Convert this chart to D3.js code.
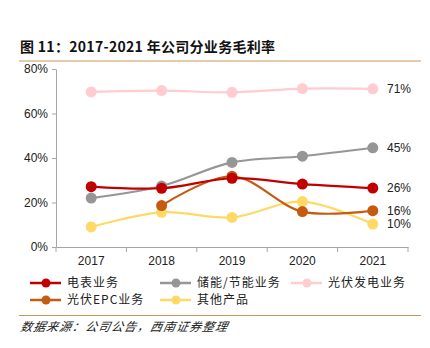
<!DOCTYPE html>
<meta charset="utf-8">
<style>
body { margin: 0; background: #fff; }
text { font-family: "Liberation Sans", Arial, sans-serif; }
.cjk { font-family: "Noto Sans CJK SC", sans-serif; }
.axis path, .axis line { stroke: #a6a6a6; }
.axis text { font-size: 12px; fill: #222; font-family: "Liberation Sans", Arial, sans-serif; }
</style>
<svg width="430" height="348"></svg>
<script src="https://cdn.jsdelivr.net/npm/d3@7"></script>
<script>

var years = ["2017", "2018", "2019", "2020", "2021"];
var yTicks = [0, 20, 40, 60, 80];

var meter   = [27.1, 26.4, 30.9, 28.3, 26.5];   // 电表业务
var storage = [22.0, 27.4, 38.0, 40.8, 44.6];   // 储能/节能业务
var pvPower = [69.7, 70.3, 69.5, 71.2, 71.1];   // 光伏发电业务
var pvEpc   = [null, 18.6, 31.8, 15.9, 16.3];   // 光伏EPC业务
var others  = [9.0, 15.6, 13.3, 20.4, 10.3];    // 其他产品

var endLabels = ["71%", "45%", "26%", "16%", "10%"];

var series = [
  {name: "电表业务", values: meter, color: "#c00000"},
  {name: "储能/节能业务", values: storage, color: "#969696"},
  {name: "光伏发电业务", values: pvPower, color: "#ffcccf"},
  {name: "光伏EPC业务", values: pvEpc, color: "#c55a11"},
  {name: "其他产品", values: others, color: "#ffd966"}
];

var svg = d3.select("svg"),
    margin = {top: 69, left: 56},
    width = 352,
    height = 178;

var x = d3.scaleBand().domain(years).range([0, width]),
    y = d3.scaleLinear().domain([0, 80]).range([height, 0]);

// title and rules
svg.append("text")
    .attr("class", "cjk")
    .attr("x", 20).attr("y", 52)
    .attr("font-size", 14).attr("font-weight", "bold")
    .attr("letter-spacing", 0.3)
    .attr("fill", "#111")
    .text("图 11：2017-2021 年公司分业务毛利率");

svg.append("line").attr("x1", 19).attr("x2", 421).attr("y1", 61).attr("y2", 61)
    .attr("stroke", "#c8955a").attr("stroke-width", 1.2);
svg.append("line").attr("x1", 19).attr("x2", 421).attr("y1", 315.5).attr("y2", 315.5)
    .attr("stroke", "#c8955a").attr("stroke-width", 1.2);

svg.append("text")
    .attr("class", "cjk")
    .attr("x", 20).attr("y", 331)
    .attr("font-size", 12).attr("font-style", "italic")
    .attr("fill", "#222")
    .attr("letter-spacing", 1)
    .attr("transform", "skewX(-12) translate(70,0)")
    .text("数据来源：公司公告，西南证券整理");

var g = svg.append("g")
    .attr("transform", "translate(" + margin.left + "," + margin.top + ")");

g.append("g")
    .attr("class", "axis")
    .call(d3.axisLeft(y).tickValues(yTicks).tickFormat(function(d) { return d + "%"; }).tickSize(4).tickSizeOuter(0))
    .call(function(a) { a.selectAll("text").attr("dx", "-1"); });

var xAxis = g.append("g")
    .attr("class", "axis")
    .attr("transform", "translate(0," + height + ")")
    .call(d3.axisBottom(x).tickSize(0).tickSizeOuter(0));
xAxis.selectAll("text").attr("dy", "1.25em");
xAxis.selectAll(".bound")
    .data(d3.range(years.length + 1))
    .enter().append("line")
    .attr("x1", function(i) { return i * x.bandwidth(); })
    .attr("x2", function(i) { return i * x.bandwidth(); })
    .attr("y1", 0).attr("y2", 5);

var cx = function(i) { return x(years[i]) + x.bandwidth() / 2; };

var line = d3.line()
    .defined(function(d) { return d != null; })
    .x(function(d, i) { return cx(i); })
    .y(function(d) { return y(d); })
    .curve(d3.curveCatmullRom.alpha(0.5));

var drawOrder = [2, 1, 4, 3, 0];
drawOrder.forEach(function(k) {
  var s = series[k];
  g.append("path")
      .attr("d", line(s.values))
      .attr("fill", "none")
      .attr("stroke", s.color)
      .attr("stroke-width", 2.2);
  g.selectAll(null)
    .data(s.values.map(function(v, i) { return {v: v, i: i}; }).filter(function(d) { return d.v != null; }))
    .enter().append("circle")
      .attr("cx", function(d) { return cx(d.i); })
      .attr("cy", function(d) { return y(d.v); })
      .attr("r", 5.5)
      .attr("fill", s.color);
});

// end labels
var labelVals = [pvPower[4], storage[4], meter[4], pvEpc[4], others[4]];
g.selectAll(".endlab")
  .data(endLabels)
  .enter().append("text")
    .attr("x", 331)
    .attr("y", function(d, i) { return y(labelVals[i]); })
    .attr("dy", "0.36em")
    .attr("font-size", 12)
    .attr("fill", "#222")
    .text(function(d) { return d; });

// legend
var legendPos = [[30, 283], [160, 283], [291, 283], [30, 300], [160, 300]];
var lg = svg.selectAll(".legend")
  .data(series)
  .enter().append("g")
    .attr("transform", function(d, i) { return "translate(" + legendPos[i][0] + "," + legendPos[i][1] + ")"; });
lg.append("line").attr("x1", 0).attr("x2", 31).attr("y1", 0).attr("y2", 0)
    .attr("stroke", function(d) { return d.color; }).attr("stroke-width", 2.5);
lg.append("circle").attr("cx", 16).attr("cy", 0).attr("r", 4.5)
    .attr("fill", function(d) { return d.color; });
lg.append("text")
    .attr("class", "cjk")
    .attr("x", 37).attr("y", 0).attr("dy", "0.36em")
    .attr("font-size", 12)
    .attr("letter-spacing", 1)
    .attr("fill", "#222")
    .text(function(d) { return d.name; });

</script>
